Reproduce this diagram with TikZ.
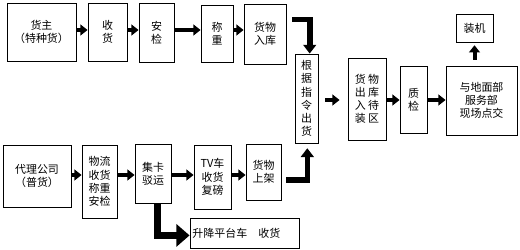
\documentclass[tikz,border=0pt]{standalone}
\usepackage{fontspec}
\setmainfont{Noto Sans CJK SC}
\usetikzlibrary{arrows.meta}

\tikzset{
  box/.style={draw, line width=0.6pt, align=center, inner sep=1pt,
    font=\fontsize{7.8}{9.4}\selectfont},
  arr/.style={-{Triangle[length=0.18cm,width=0.27cm]}, line width=0.1cm},
  bigarr/.style={-{Triangle[length=0.22cm,width=0.32cm]}, line width=0.14cm},
  hugearr/.style={-{Triangle[length=0.33cm,width=0.55cm]}, line width=0.18cm}
}

\begin{document}
\begin{tikzpicture}[x=0.025cm, y=-0.025cm]
    \useasboundingbox (0,0) rectangle (520,250);
    % top row (special cargo)
    \node[box, minimum width=1.725cm, minimum height=1.45cm] (hz) at (41.5,32) {货主\\（特种货）};
    \node[box, minimum width=0.975cm, minimum height=1.45cm] (sh) at (107.5,32) {收\\货};
    \node[box, minimum width=0.875cm, minimum height=1.475cm] (aj) at (156.5,32.5) {安\\检};
    \node[box, minimum width=0.8cm, minimum height=1.425cm] (cz) at (217,33.5) {称\\重};
    \node[box, minimum width=1.05cm, minimum height=1.5cm] (rk) at (265,34) {货物\\入库};
    % middle
    \node[box, minimum width=0.575cm, minimum height=2.225cm] (gj) at (306.5,98.5) {根\\据\\指\\令\\出\\货};
    \node[box, minimum width=0.95cm, minimum height=2.05cm] (ck) at (367,99) {货\hspace{0.2em}物\\出\hspace{0.2em}库\\入\hspace{0.2em}待\\装\hspace{0.2em}区};
    \node[box, minimum width=0.675cm, minimum height=1.675cm] (zj) at (413.5,99.5) {质\\检};
    \node[box, minimum width=1.775cm, minimum height=1.725cm] (dm) at (481.5,100.5) {与地面部\\服务部\\现场点交};
    \node[box, minimum width=0.925cm, minimum height=0.7cm] (zjj) at (474.5,28) {装机};
    % bottom row (general cargo)
    \node[box, minimum width=1.7cm, minimum height=1.55cm] (dl) at (37,176) {代理公司\\（普货）};
    \node[box, minimum width=0.875cm, minimum height=1.825cm] (wl) at (99.5,181.5) {物流\\收货\\称重\\安检};
    \node[box, minimum width=0.9cm, minimum height=1.475cm] (jk) at (153,173.5) {集卡\\驳运};
    \node[box, minimum width=0.925cm, minimum height=1.6cm] (tv) at (212.5,177) {TV车\\收货\\复磅};
    \node[box, minimum width=0.875cm, minimum height=1.4cm] (sj) at (263.5,172) {货物\\上架};
    \node[box, minimum width=2.725cm, minimum height=0.75cm, text width=2.6cm, align=left] (sjp) at (244.5,233) {升降平台车\quad 收货};

    \coordinate (row1) at (0,30);
    \coordinate (row2) at (0,175);
    \coordinate (row3) at (0,100);
    \coordinate (tin) at (292,19.5);
    \coordinate (bin) at (286,180);

    \draw[arr] (hz.east |- row1) -- (sh.west |- row1);
    \draw[arr] (sh.east |- row1) -- (aj.west |- row1);
    \draw[arr] (aj.east |- row1) -- (cz.west |- row1);
    \draw[arr] (cz.east |- row1) -- (rk.west |- row1);

    \draw[arr] (dl.east |- row2) -- (wl.west |- row2);
    \draw[arr] (wl.east |- row2) -- (jk.west |- row2);
    \draw[arr] (jk.east |- row2) -- (tv.west |- row2);
    \draw[arr] (tv.east |- row2) -- (sj.west |- row2);

    \draw[arr, shorten <=0.175cm, shorten >=0.2cm] (gj.east |- row3) -- (ck.west |- row3);
    \draw[arr] (ck.east |- row3) -- (zj.west |- row3);
    \draw[arr] (zj.east |- row3) -- (dm.west |- row3);
    \draw[arr, shorten <=0.15cm, shorten >=0.07cm] (zjj.south |- dm.north) -- (zjj.south);

    \draw[bigarr] (tin) -| ([xshift=0.08cm]gj.north);
    \draw[bigarr, shorten >=0.12cm] (bin) -| ([xshift=0.02cm]gj.south);
    \draw[hugearr] ([xshift=0.12cm]jk.south) |- ([yshift=-0.06cm]sjp.west);
\end{tikzpicture}
\end{document}
